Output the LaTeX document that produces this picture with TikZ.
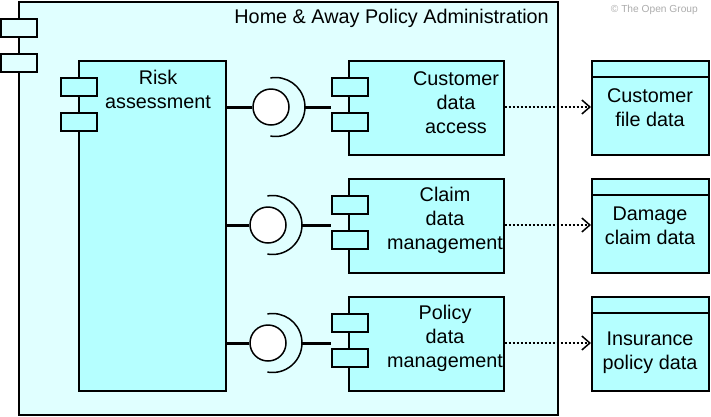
\documentclass[tikz,border=0pt]{standalone}
\usepackage{fontspec}
\setmainfont{Liberation Sans}
\usetikzlibrary{arrows.meta}
\definecolor{outerfill}{HTML}{E0FFFF}
\definecolor{compfill}{HTML}{B5FFFF}
\begin{document}
\begin{tikzpicture}[x=1pt,y=-1pt,
  outerbox/.style={draw=black, line width=1.5pt, fill=outerfill, rectangle, inner sep=0pt, anchor=north west},
  compbox/.style={draw=black, line width=1.5pt, fill=compfill, rectangle, inner sep=0pt, anchor=north west},
  portbox/.style={draw=black, line width=1.5pt, rectangle, inner sep=0pt, anchor=north west, minimum width=36pt, minimum height=18pt},
  lbl/.style={align=center, font=\fontsize{19.8pt}{24pt}\selectfont, inner sep=0pt},
  iface/.style={draw=black, line width=1.5pt, fill=white, circle, inner sep=0pt, minimum size=36pt},
  assoc/.style={line width=3pt},
  arcline/.style={line width=1.5pt},
  access/.style={line width=2pt, dash pattern=on 2pt off 2pt, -{Straight Barb[length=8pt,width=14pt,line width=1.5pt]}}
]
\useasboundingbox (0,0) rectangle (711,416);

% outer component
\node[outerbox, minimum width=539pt, minimum height=413pt] (sys) at (18,1) {};
\node[portbox, fill=outerfill] (sysp1) at (0,18) {};
\node[portbox, fill=outerfill] (sysp2) at (0,53) {};
\node[lbl, anchor=east] (systitle) at (549,18) {Home \& Away Policy Administration};
\node[anchor=east, text=gray!65, font=\fontsize{10.2pt}{12pt}\selectfont, inner sep=0pt] (copy) at (698,10) {\textcopyright{} The Open Group};

% risk assessment
\node[compbox, minimum width=147pt, minimum height=330pt] (risk) at (78,60) {};
\node[portbox, fill=compfill] (riskp1) at (60,77) {};
\node[portbox, fill=compfill] (riskp2) at (60,112) {};
\node[lbl] (risklbl) at (158,89) {Risk\\assessment};

% data access components
\foreach \y/\n in {60/cda, 178/cdm, 296/pdm} {
  \node[compbox, minimum width=155pt, minimum height=94pt] (\n) at (348,\y) {};
  \node[portbox, fill=compfill] (\n p1) at (331,\y+17) {};
  \node[portbox, fill=compfill] (\n p2) at (331,\y+52) {};
}
\node[lbl] (cdalbl) at (456,103) {Customer\\data\\access};
\node[lbl] (cdmlbl) at (445,220) {Claim\\data\\management};
\node[lbl] (pdmlbl) at (445,338) {Policy\\data\\management};

% data objects
\foreach \y/\n in {60/cfd, 178/dcd, 296/ipd} {
  \node[compbox, minimum width=117pt, minimum height=94pt] (\n) at (591,\y) {};
  \draw[line width=1.5pt] (591,\y+17) -- (708,\y+17);
}
\node[lbl] (cfdlbl) at (650,107.5) {Customer\\file data};
\node[lbl] (dcdlbl) at (650,225.5) {Damage\\claim data};
\node[lbl] (ipdlbl) at (650,353) {Insurance\\policy data};

% interfaces
\foreach \cx/\cy/\n/\c in {271/107/i1/cda, 268/225/i2/cdm, 268/343/i3/pdm} {
  \node[iface] (\n) at (\cx,\cy) {};
  \coordinate (\n c) at (\cx+4.5,\cy);
  \draw[arcline] ([shift={(100:29.5pt)}]\n c) arc[start angle=100, end angle=-100, radius=29.5pt];
  \coordinate (\n r) at ([xshift=29.5pt]\n c);
  \draw[assoc] (risk.east |- \n) -- (\n.west);
  \draw[assoc] (\n r) -- (\c p1.west |- \n r);
}

% access relations
\draw[access] (cda.east |- 0,107) -- (cfd.west |- 0,107);
\draw[access] (cdm.east |- 0,225) -- (dcd.west |- 0,225);
\draw[access] (pdm.east |- 0,343) -- (ipd.west |- 0,343);
\end{tikzpicture}
\end{document}
